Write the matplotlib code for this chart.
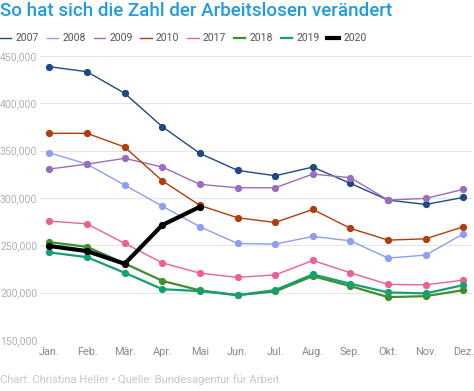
import matplotlib
matplotlib.use("Agg")
import matplotlib.pyplot as plt
from matplotlib.ticker import FuncFormatter

plt.rcParams['font.family'] = ['Roboto', 'DejaVu Sans']

months = ['Jan.', 'Feb.', 'Mär.', 'Apr.', 'Mai', 'Jun.', 'Jul.', 'Aug.', 'Sep.', 'Okt.', 'Nov.', 'Dez.']

y2007 = [438700, 433400, 410600, 375300, 347100, 329200, 323500, 332700, 315400, 297800, 293200, 300600]
y2008 = [347800, 335800, 313600, 291400, 269600, 252000, 251300, 259400, 254800, 236500, 239700, 262200]
y2009 = [330600, 335800, 341900, 332700, 314400, 310800, 310800, 325300, 321400, 297800, 299600, 309100]
y2010 = [368300, 368300, 353800, 318200, 292200, 279100, 274200, 287900, 267900, 255500, 256900, 269600]
y2017 = [275600, 272700, 252000, 231500, 220600, 216100, 218800, 234000, 221000, 208700, 208300, 213200]
y2018 = [253400, 248400, 230900, 212500, 202400, 197400, 201300, 217500, 206900, 195300, 196300, 202700]
y2019 = [242500, 237500, 221000, 203700, 201600, 197400, 202700, 219300, 209400, 200300, 199200, 208000]
y2020 = [249300, 243900, 230500, 271400, 290700]

series = [
    ('2007', y2007, '#1d4a80', 1.0),
    ('2008', y2008, '#8e9ef0', 1.0),
    ('2009', y2009, '#9a6dbf', 1.0),
    ('2010', y2010, '#b23c0c', 1.0),
    ('2017', y2017, '#ec6193', 1.0),
    ('2018', y2018, '#3f8f2a', 1.6),
    ('2019', y2019, '#14a070', 1.6),
    ('2020', y2020, '#000000', 3.0),
]

fig = plt.figure(figsize=(4.74, 3.91), dpi=100)
ax = fig.add_axes([40 / 474, 1 - 340 / 391, 432 / 474, 284 / 391])

for label, vals, color, lw in series:
    ax.plot(range(len(vals)), vals, color=color, lw=lw, marker='o', markersize=4.2,
            label=label, clip_on=False, zorder=3, solid_joinstyle='round')

ax.set_xlim(-0.25, 11.23)
ax.set_ylim(150000, 450000)
ax.set_yticks(range(150000, 450001, 50000))
ax.yaxis.set_major_formatter(FuncFormatter(lambda v, p: f'{int(v):,}'))
ax.set_xticks(range(12))
ax.set_xticklabels(months)
ax.tick_params(axis='y', length=0, pad=2, labelsize=7.5, labelcolor='#b0b0b0')
ax.tick_params(axis='x', length=0, pad=5, labelsize=7.8, labelcolor='#8a8a8a')
ax.grid(axis='y', color='#e6e6e6', lw=0.8)
ax.set_axisbelow(True)
for s in ax.spines.values():
    s.set_visible(False)

leg = ax.legend(ncol=8, loc='lower left', bbox_to_anchor=(-40 / 432, 1.045), frameon=False,
                handlelength=1.1, handletextpad=0.4, columnspacing=0.75, fontsize=7.5,
                borderaxespad=0, borderpad=0)
for h in leg.get_lines():
    h.set_marker('')
for t in leg.get_texts():
    t.set_color('#555555')

fig.text(0.0, 1 - 11 / 391, 'So hat sich die Zahl der Arbeitslosen verändert',
         fontsize=13.5, color='#1e9be3', fontweight='medium', va='center', ha='left',
         family=['Liberation Sans Narrow', 'Roboto'])
fig.text(0.0, 1 - 380 / 391, 'Chart: Christina Heller • Quelle: Bundesagentur für Arbeit',
         fontsize=8.1, color='#c8c8c8', va='center', ha='left')

fig.savefig('out.png', dpi=100)
